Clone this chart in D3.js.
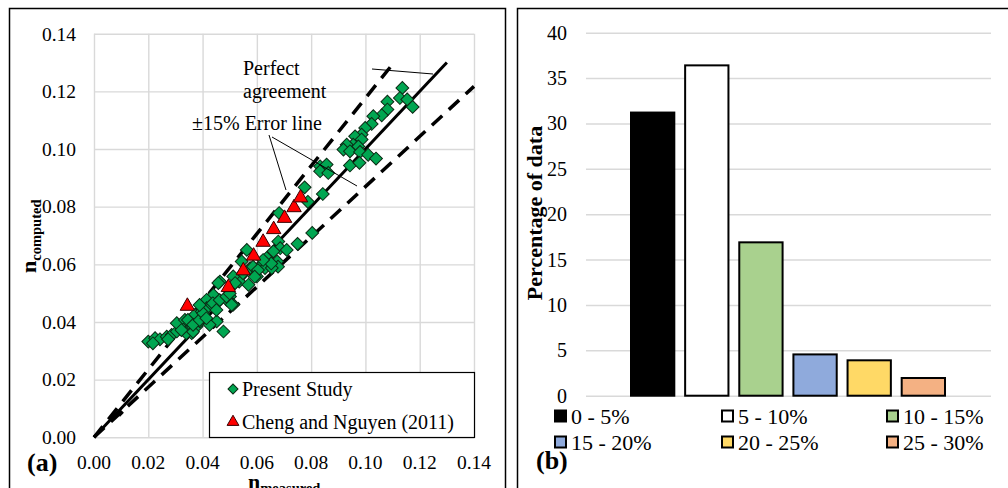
<!DOCTYPE html>
<html>
<head>
<meta charset="utf-8">
<script src="https://cdn.jsdelivr.net/npm/d3@7.9.0/dist/d3.min.js"></script>
<style>
  body { margin: 0; background: #fff; }
  svg { display: block; }
  svg text { font-family: "Liberation Serif", "Times New Roman", Times, "DejaVu Serif", serif; font-weight: 400; }
  svg text.bold, svg text.bold tspan { font-weight: 700; }
</style>
</head>
<body>
<svg id="chart" width="1008" height="488"></svg>
<script>
// ---- panel (a) data: [n_measured, n_computed] ----
const presentStudy = [
  [0.1136,0.1212],[0.1127,0.1177],[0.1154,0.1172],[0.1174,0.1146],[0.1081,0.1164],[0.1081,0.1137],
  [0.1060,0.1117],[0.1029,0.1114],[0.1023,0.1087],[0.0999,0.1073],[0.0986,0.1050],[0.0962,0.1044],
  [0.0986,0.1033],[0.0955,0.1015],[0.0931,0.1015],[0.0919,0.0998],[0.0943,0.0992],[0.0974,0.1009],
  [0.0980,0.0990],[0.1010,0.0980],[0.1039,0.0967],[0.0943,0.0943],[0.0978,0.0952],[0.0833,0.0940],
  [0.0857,0.0946],[0.0833,0.0923],[0.0863,0.0917],[0.0843,0.0844],
  [0.0776,0.0867],[0.0788,0.0817],[0.0804,0.0709],[0.0750,0.0671],[0.0682,0.0778],[0.0679,0.0679],
  [0.0686,0.0656],[0.0661,0.0645],[0.0710,0.0650],[0.0675,0.0610],[0.0678,0.0592],[0.0636,0.0622],
  [0.0618,0.0598],[0.0630,0.0587],[0.0655,0.0587],[0.0600,0.0558],[0.0575,0.0587],[0.0563,0.0650],
  [0.0544,0.0610],[0.0535,0.0540],[0.0569,0.0529],[0.0513,0.0558],[0.0464,0.0540],[0.0501,0.0488],
  [0.0513,0.0460],[0.0440,0.0494],[0.0415,0.0477],[0.0586,0.0592],[0.0604,0.0580],[0.0592,0.0557],
  [0.0653,0.0603],[0.0623,0.0615],
  [0.0200,0.0332],[0.0225,0.0344],[0.0243,0.0340],[0.0268,0.0349],[0.0286,0.0355],[0.0305,0.0367],
  [0.0305,0.0396],[0.0335,0.0407],[0.0329,0.0373],[0.0354,0.0379],[0.0360,0.0361],[0.0378,0.0384],
  [0.0390,0.0402],[0.0372,0.0425],[0.0397,0.0436],[0.0415,0.0448],[0.0434,0.0460],[0.0427,0.0396],
  [0.0452,0.0402],[0.0477,0.0367],[0.0458,0.0535],[0.0452,0.0465],[0.0489,0.0477],[0.0507,0.0460],
  [0.0520,0.0535],[0.0217,0.0326],[0.0273,0.0340],[0.0340,0.0361],[0.0322,0.0372],[0.0365,0.0366],
  [0.0346,0.0407],[0.0365,0.0390],[0.0389,0.0407],[0.0402,0.0430],[0.0426,0.0390],[0.0438,0.0465],
  [0.0463,0.0476],[0.0451,0.0442],[0.0414,0.0413],[0.0389,0.0459],[0.0488,0.0488],[0.0500,0.0499],
  [0.0549,0.0569]
];
const chengNguyen = [
  [0.0344,0.0455],[0.0495,0.0520],[0.0550,0.0578],[0.0588,0.0629],[0.0623,0.0677],
  [0.0662,0.0721],[0.0702,0.0760],[0.0737,0.0797],[0.0761,0.0831]
];
const originMarks = [[0.0071,0.0072],[0.0096,0.0085]];
const scatterTicks = [0, 0.02, 0.04, 0.06, 0.08, 0.10, 0.12, 0.14];

// ---- panel (b) data ----
const errorBands = ['0 - 5%', '5 - 10%', '10 - 15%', '15 - 20%', '20 - 25%', '25 - 30%'];
const bandPercent = [31.2, 36.4, 16.9, 4.55, 3.9, 1.95];
const bandColors = ['#000000', '#ffffff', '#a9d18e', '#8faadc', '#ffd966', '#f4b183'];
const percentTicks = [0, 5, 10, 15, 20, 25, 30, 35, 40];

const svg = d3.select('#chart');
const grid = '#d9d9d9';

// panel frames
svg.append('rect').attr('x', 9.5).attr('y', 8.5).attr('width', 496).attr('height', 490)
  .attr('fill', 'none').attr('stroke', '#000').attr('stroke-width', 1.5);
svg.append('rect').attr('x', 517.5).attr('y', 8.5).attr('width', 500).attr('height', 490)
  .attr('fill', 'none').attr('stroke', '#000').attr('stroke-width', 1.5);

// ================= panel (a) =================
const x = d3.scaleLinear().domain([0, 0.14]).range([94, 474]);
const y = d3.scaleLinear().domain([0, 0.14]).range([437.3, 33.7]);

const a = svg.append('g');

a.append('g').attr('transform', `translate(0,${y(0)})`)
  .call(d3.axisBottom(x).tickValues(scatterTicks).tickSize(-(y(0) - y(0.14))).tickFormat(''))
  .call(g => g.select('.domain').remove())
  .call(g => g.selectAll('line').attr('stroke', grid).attr('stroke-width', 1.4));
a.append('g').attr('transform', `translate(${x(0)},0)`)
  .call(d3.axisLeft(y).tickValues(scatterTicks).tickSize(-(x(0.14) - x(0))).tickFormat(''))
  .call(g => g.select('.domain').remove())
  .call(g => g.selectAll('line').attr('stroke', grid).attr('stroke-width', 1.4));

// tick labels
a.selectAll('.ylab').data(scatterTicks).join('text')
  .attr('x', 76).attr('y', d => y(d)).attr('dy', '0.35em')
  .attr('text-anchor', 'end').attr('font-size', 19.5).text(d => d.toFixed(2));
a.selectAll('.xlab').data(scatterTicks).join('text')
  .attr('x', d => x(d)).attr('y', 462).attr('dy', '0.35em')
  .attr('text-anchor', 'middle').attr('font-size', 19.5).text(d => d.toFixed(2));

// reference lines
const line = d3.line().x(d => x(d[0])).y(d => y(d[1]));
a.append('path').attr('d', line([[0, 0], [0.13, 0.13]]))
  .attr('stroke', '#000').attr('stroke-width', 3).attr('fill', 'none');
a.append('path').attr('d', line([[0, 0], [0.1105, 0.1105 / 0.85]]))
  .attr('stroke', '#000').attr('stroke-width', 3.5).attr('fill', 'none').attr('stroke-dasharray', '14,9');
a.append('path').attr('d', line([[0, 0], [0.14, 0.14 / 1.15]]))
  .attr('stroke', '#000').attr('stroke-width', 3.5).attr('fill', 'none').attr('stroke-dasharray', '14,9');

const diamond = d3.symbol().type(d3.symbolSquare).size(82);
const triangle = d3.symbol().type(d3.symbolTriangle).size(90);

a.selectAll('.om').data(originMarks).join('path')
  .attr('d', d3.symbol().type(d3.symbolSquare).size(30))
  .attr('transform', d => `translate(${x(d[0])},${y(d[1])}) rotate(45)`)
  .attr('fill', '#000');

a.selectAll('.ps').data(presentStudy).join('path')
  .attr('d', diamond)
  .attr('transform', d => `translate(${x(d[0])},${y(d[1])}) rotate(45)`)
  .attr('fill', '#00a651').attr('stroke', '#0b2a14').attr('stroke-width', 1);

a.selectAll('.cn').data(chengNguyen).join('path')
  .attr('d', triangle)
  .attr('transform', d => `translate(${x(d[0])},${y(d[1])})`)
  .attr('fill', '#ff0000').attr('stroke', '#3a0000').attr('stroke-width', 1);

// annotations
a.append('text').attr('x', 243).attr('y', 75).attr('font-size', 20).text('Perfect');
a.append('text').attr('x', 243).attr('y', 98).attr('font-size', 20).text('agreement');
a.append('line').attr('x1', 372).attr('y1', 69).attr('x2', 433).attr('y2', 74)
  .attr('stroke', '#000').attr('stroke-width', 1);
a.append('text').attr('x', 192).attr('y', 130).attr('font-size', 20).text('\u00b115% Error line');
a.append('line').attr('x1', 269).attr('y1', 135).attr('x2', 286).attr('y2', 190)
  .attr('stroke', '#000').attr('stroke-width', 1);
a.append('line').attr('x1', 272).attr('y1', 137).attr('x2', 357).attr('y2', 186)
  .attr('stroke', '#000').attr('stroke-width', 1);

// legend
a.append('rect').attr('x', 209.5).attr('y', 372.5).attr('width', 265).attr('height', 65)
  .attr('fill', '#fff').attr('stroke', '#000').attr('stroke-width', 1.2);
a.append('path').attr('d', d3.symbol().type(d3.symbolSquare).size(50))
  .attr('transform', 'translate(233,389) rotate(45)')
  .attr('fill', '#00a651').attr('stroke', '#0b2a14').attr('stroke-width', 1);
a.append('text').attr('x', 242).attr('y', 389).attr('dy', '0.35em').attr('font-size', 20).text('Present Study');
a.append('path').attr('d', d3.symbol().type(d3.symbolTriangle).size(60))
  .attr('transform', 'translate(233,422)')
  .attr('fill', '#ff0000').attr('stroke', '#3a0000').attr('stroke-width', 1);
a.append('text').attr('x', 242).attr('y', 422).attr('dy', '0.35em').attr('font-size', 20).text('Cheng and Nguyen (2011)');

// axis titles
a.append('text').attr('class', 'bold').attr('x', 27).attr('y', 471).attr('font-size', 26).text('(a)');
const xt = a.append('text').attr('class', 'bold').attr('x', 248).attr('y', 489);
xt.append('tspan').attr('font-size', 22).text('n');
xt.append('tspan').attr('font-size', 14.5).attr('dy', 4).text('measured');
const yt = a.append('text').attr('class', 'bold').attr('transform', 'translate(36,273) rotate(-90)');
yt.append('tspan').attr('font-size', 22).text('n');
yt.append('tspan').attr('font-size', 14.5).attr('dy', 5).text('computed');

// ================= panel (b) =================
const yb = d3.scaleLinear().domain([0, 40]).range([395.7, 32.7]);
const xb = d3.scaleBand().domain(errorBands).range([631, 945]).paddingInner(0.2).paddingOuter(0);

const b = svg.append('g');
b.append('g').attr('transform', 'translate(586,0)')
  .call(d3.axisLeft(yb).tickValues(percentTicks).tickSize(-405).tickFormat(''))
  .call(g => g.select('.domain').remove())
  .call(g => g.selectAll('line').attr('stroke', grid).attr('stroke-width', 1.5));
b.selectAll('.ylab').data(percentTicks).join('text')
  .attr('x', 567).attr('y', d => yb(d)).attr('dy', '0.35em')
  .attr('text-anchor', 'end').attr('font-size', 20).text(d => d);

b.selectAll('.bar').data(errorBands).join('rect')
  .attr('x', d => xb(d)).attr('width', xb.bandwidth())
  .attr('y', (d, i) => yb(bandPercent[i]))
  .attr('height', (d, i) => yb(0) - yb(bandPercent[i]))
  .attr('fill', (d, i) => bandColors[i])
  .attr('stroke', '#000').attr('stroke-width', 2);

// legend
const legX = [555, 722, 887];
const legY = [416, 442];
const leg = b.selectAll('.leg').data(errorBands).join('g')
  .attr('transform', (d, i) => `translate(${legX[i % 3]},${legY[Math.floor(i / 3)]})`);
leg.append('rect').attr('x', 0).attr('y', -5.5).attr('width', 11).attr('height', 11)
  .attr('fill', (d, i) => bandColors[i]).attr('stroke', '#000').attr('stroke-width', 2);
leg.append('text').attr('x', 16).attr('dy', '0.35em').attr('font-size', 22).text(d => d);

b.append('text').attr('class', 'bold').attr('x', 536).attr('y', 469).attr('font-size', 26).text('(b)');
b.append('text').attr('class', 'bold').attr('transform', 'translate(542,213) rotate(-90)')
  .attr('text-anchor', 'middle').attr('font-size', 22)
  .text('Percentage of data');
</script>
</body>
</html>
